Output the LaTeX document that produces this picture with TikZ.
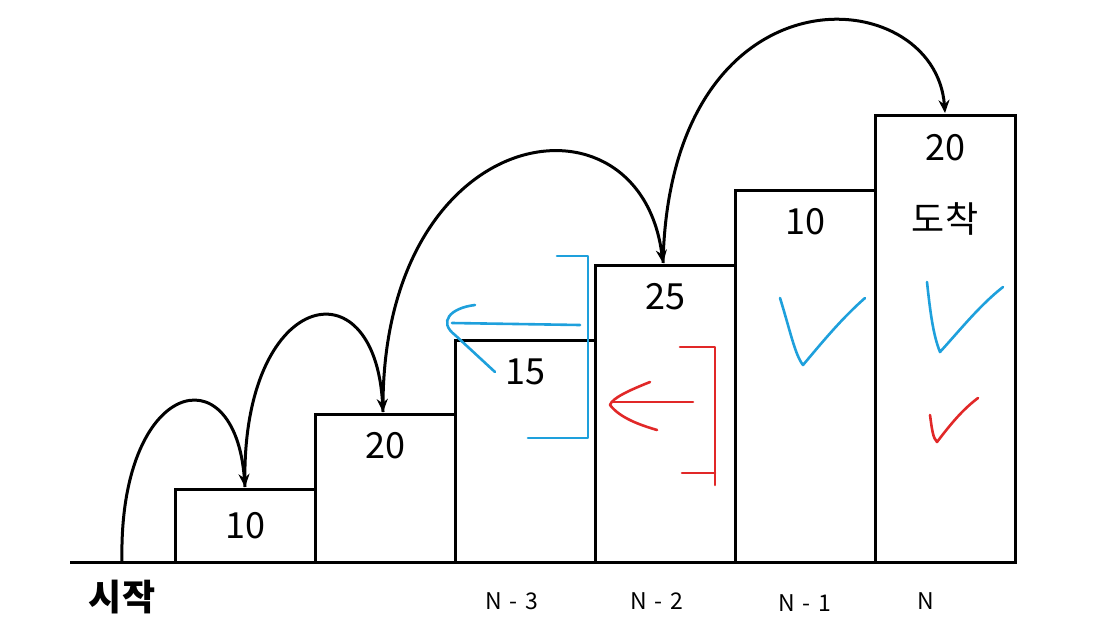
\documentclass[tikz,border=0pt]{standalone}
\usepackage{fontspec}
\setmainfont{Noto Sans CJK KR}
\usetikzlibrary{arrows.meta}
\begin{document}
\begin{tikzpicture}[x=1pt,y=-1pt,
 bx/.style={draw,line width=3pt},
 num/.style={font=\fontsize{36}{40}\selectfont},
 lab/.style={font=\fontsize{23}{26}\selectfont},
 arc/.style={line width=3pt,-{Stealth[length=13pt,width=11pt]}},
 blue/.style={draw={rgb,255:red,30;green,160;blue,220},line width=2.6pt,line cap=round,line join=round},
 red/.style={draw={rgb,255:red,225;green,40;blue,40},line width=2.6pt,line cap=round,line join=round}]
\useasboundingbox (0,0) rectangle (1119,640);
\draw[line width=3pt] (70,562) -- (1015,562);
\draw[bx] (175,489) rectangle (315,562);
\draw[bx] (315,414) rectangle (455,562);
\draw[bx] (455,340) rectangle (595,562);
\draw[bx] (595,265) rectangle (735,562);
\draw[bx] (735,190) rectangle (875,562);
\draw[bx] (875,115) rectangle (1015,562);
\node[num] (b1) at (245,526) {10};
\node[num] (b2) at (385,446) {20};
\node[num] (b3) at (525,372) {15};
\node[num] (b4) at (665,297) {25};
\node[num] (b5) at (805,222) {10};
\node[num] (b6) at (945,148) {20};
\node[num] (g) at (945,219) {도착};
\node[font=\fontsize{36}{40}\selectfont\bfseries] (s) at (122,597) {시작};
\node[lab] (n3) at (512,601) {N\,\,-\,\,3};
\node[lab] (n2) at (657,601) {N\,\,-\,\,2};
\node[lab] (n1) at (805,603) {N\,\,-\,\,1};
\node[lab] (n0) at (926,601) {N};
\coordinate (p0) at (122,562); \coordinate (p1) at (245,487);
\coordinate (p2) at (383,412); \coordinate (p3) at (663,263); \coordinate (p4) at (945,113);
\draw[arc] (p0) .. controls (118,380) and (235,350) .. (p1);
\draw[arc] (p1) .. controls (240,290) and (375,260) .. (p2);
\draw[arc] (p2) .. controls (380,120) and (640,80) .. (p3);
\draw[arc] (p3) .. controls (670,-40) and (935,-20) .. (p4);
\draw[blue] (557,256) -- (588,256) -- (588,438) -- (528,438);
\draw[blue] (452,323) -- (580,325);
\draw[blue] (475,305) .. controls (450,308) and (438,322) .. (455,335) -- (495,372);
\draw[blue] (780,298) .. controls (790,330) and (795,355) .. (803,365) .. controls (820,345) and (840,320) .. (865,298);
\draw[blue] (927,282) .. controls (930,310) and (933,335) .. (940,352) .. controls (960,330) and (980,305) .. (1003,287);
\draw[red] (680,347) -- (715,347) -- (715,485);
\draw[red] (682,473) -- (715,473);
\draw[red] (612,402) -- (693,402);
\draw[red] (650,382) .. controls (630,390) and (612,398) .. (610,405) .. controls (620,418) and (640,425) .. (657,430);
\draw[red] (930,415) .. controls (932,430) and (933,438) .. (937,442) .. controls (950,425) and (962,410) .. (978,398);
\end{tikzpicture}
\end{document}
